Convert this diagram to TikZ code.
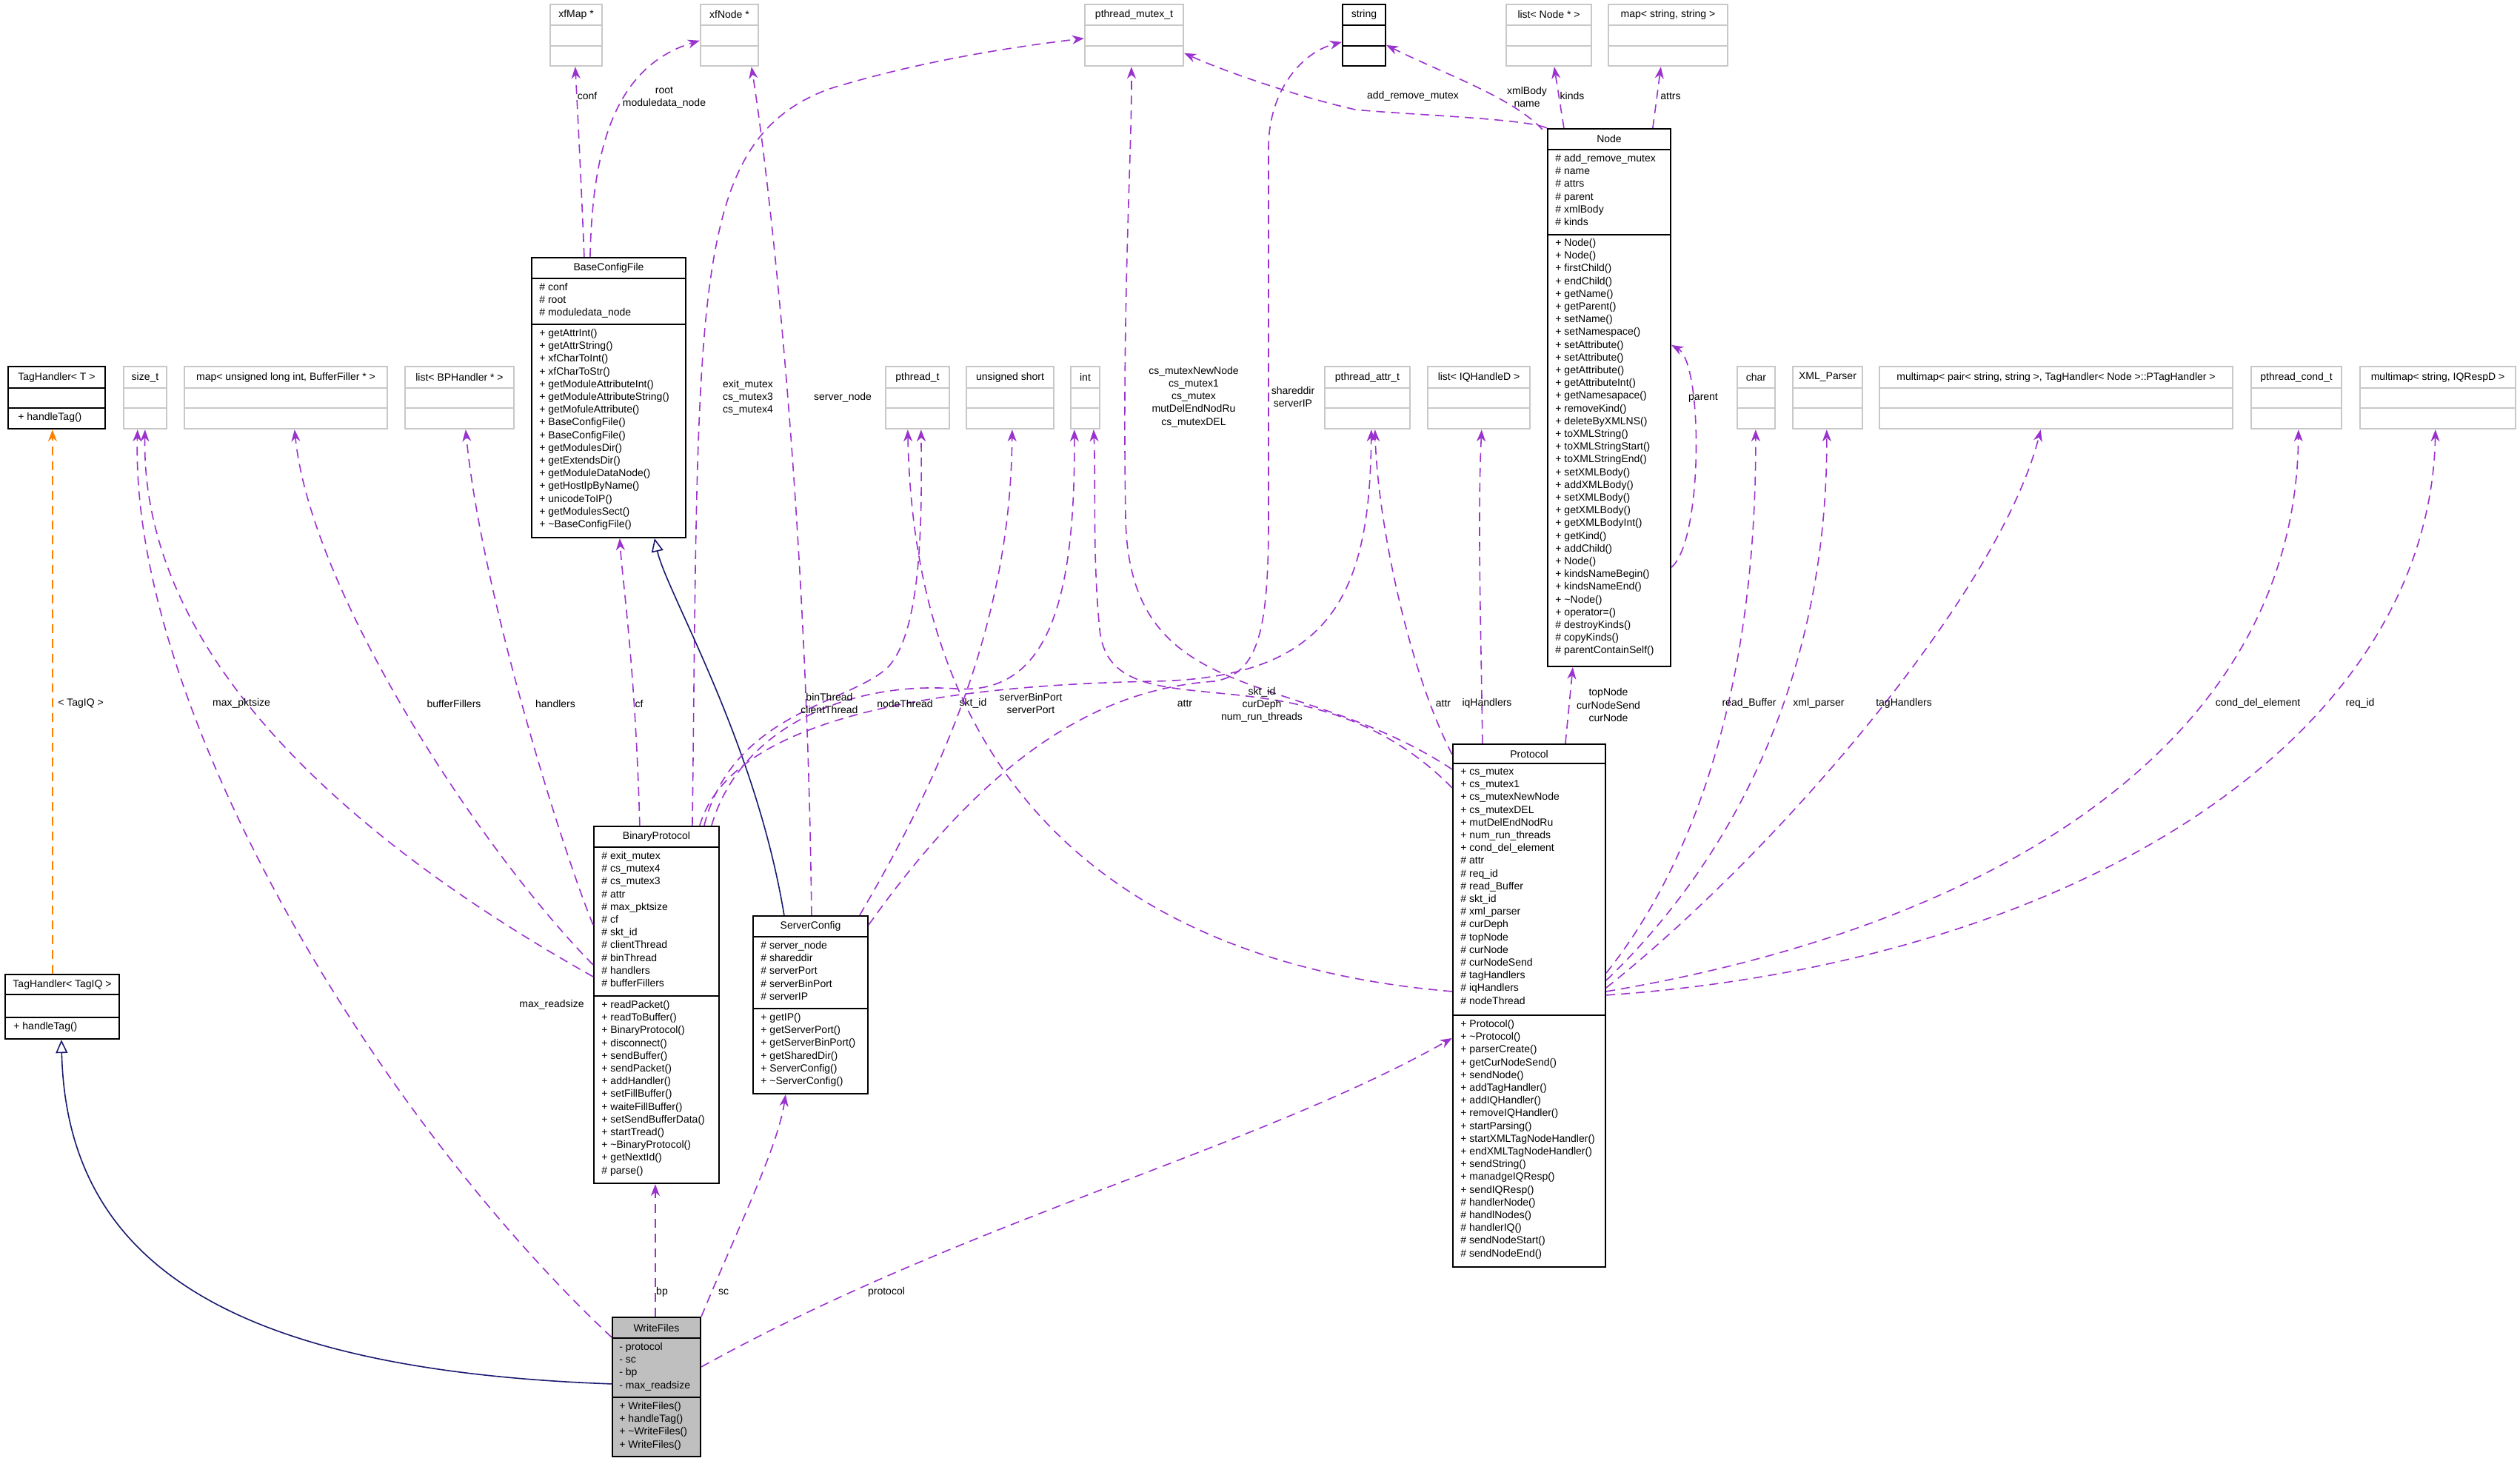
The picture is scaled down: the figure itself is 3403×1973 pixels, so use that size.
\documentclass[tikz,border=0pt]{standalone}
\usepackage{fontspec}
\setmainfont{Liberation Sans}
\usetikzlibrary{fit,calc,arrows.meta}
\definecolor{purp}{HTML}{9A32CD}
\definecolor{inh}{HTML}{191970}
\definecolor{gbox}{HTML}{BFBFBF}
\definecolor{lgray}{HTML}{C8C8C8}
\tikzset{
 gb/.style={draw=lgray,line width=1.2pt},
 bb/.style={draw=black,line width=1.1pt},
 wf/.style={draw=black,line width=1.1pt,fill=gbox},
 txt/.style={font=\fontsize{7}{8.6}\selectfont,inner sep=0pt,align=left},
 ttl/.style={font=\fontsize{7}{8.6}\selectfont,inner sep=0pt},
 lab/.style={font=\fontsize{7}{8.6}\selectfont,inner sep=0pt,align=center},
 dep/.style={draw=purp,dashed,dash pattern=on 6pt off 4pt,line width=0.8pt,-{Stealth[length=8pt,width=6pt,inset=2.5pt,sep=0pt]}},
 tmp/.style={draw=orange,dashed,dash pattern=on 6pt off 4pt,line width=0.8pt,-{Stealth[length=8pt,width=6pt]}},
 inhe/.style={draw=inh,line width=0.8pt,-{Triangle[open,length=9pt,width=8pt]}},
}
\newcommand\cls[9]{%
 \node[#2,fit={(#3,#4) (#5,#6)},inner sep=0pt] (#1) {};
 \draw[#2] (#3,#7) -- (#5,#7);
 \draw[#2] (#3,#8) -- (#5,#8);
 \node[ttl] (#1-t) at ({(#3+#5)/2},{(#4+#7)/2}) {#9};
}
\newcommand\mem[4]{\node[txt,anchor=north west] (#1) at (#2,#3) {#4};}
\begin{document}
\begin{tikzpicture}[x=0.5pt,y=-0.5pt]
\useasboundingbox (0,0) rectangle (3403,1973);
% top row
\cls{xfMap}{gb}{743}{6}{813}{89}{34}{62}{xfMap *}
\cls{xfNode}{gb}{946}{6}{1024}{89}{34}{62}{xfNode *}
\cls{pmt}{gb}{1465}{6}{1598}{89}{34}{62}{pthread\_mutex\_t}
\cls{str}{bb}{1813}{6}{1871}{89}{34}{62}{string}
\cls{lnode}{gb}{2034}{6}{2149}{89}{34}{62}{list< Node * >}
\cls{mss}{gb}{2172}{6}{2333}{89}{34}{62}{map< string, string >}
% middle row
\cls{tht}{bb}{11}{495}{142}{579}{524}{551}{TagHandler< T >}
\mem{tht-m}{24}{557}{+ handleTag()}
\cls{sizet}{gb}{167}{495}{225}{579}{524}{551}{size\_t}
\cls{mapbf}{gb}{249}{495}{523}{579}{524}{551}{map< unsigned long int, BufferFiller * >}
\cls{lbp}{gb}{547}{495}{694}{579}{524}{551}{list< BPHandler * >}
\cls{pt}{gb}{1196}{495}{1282}{579}{524}{551}{pthread\_t}
\cls{us}{gb}{1305}{495}{1423}{579}{524}{551}{unsigned short}
\cls{int}{gb}{1446}{495}{1485}{579}{524}{551}{int}
\cls{pat}{gb}{1789}{495}{1904}{579}{524}{551}{pthread\_attr\_t}
\cls{liq}{gb}{1928}{495}{2066}{579}{524}{551}{list< IQHandleD >}
\cls{char}{gb}{2346}{495}{2397}{579}{524}{551}{char}
\cls{xmlp}{gb}{2421}{495}{2515}{579}{524}{551}{XML\_Parser}
\cls{mmp}{gb}{2538}{495}{3015}{579}{524}{551}{multimap< pair< string, string >, TagHandler< Node >::PTagHandler >}
\cls{pct}{gb}{3040}{495}{3162}{579}{524}{551}{pthread\_cond\_t}
\cls{mmiq}{gb}{3187}{495}{3397}{579}{524}{551}{multimap< string, IQRespD >}
% BaseConfigFile
\cls{bcf}{bb}{718}{348}{926}{726}{376}{438}{BaseConfigFile}
\mem{bcf-a}{728}{382}{\# conf\\\# root\\\# moduledata\_node}
\mem{bcf-m}{728}{444}{+ getAttrInt()\\+ getAttrString()\\+ xfCharToInt()\\+ xfCharToStr()\\+ getModuleAttributeInt()\\+ getModuleAttributeString()\\+ getMofuleAttribute()\\+ BaseConfigFile()\\+ BaseConfigFile()\\+ getModulesDir()\\+ getExtendsDir()\\+ getModuleDataNode()\\+ getHostIpByName()\\+ unicodeToIP()\\+ getModulesSect()\\+ \textasciitilde BaseConfigFile()}
% Node
\cls{node}{bb}{2090}{174}{2256}{900}{202}{317}{Node}
\mem{node-a}{2100}{208}{\# add\_remove\_mutex\\\# name\\\# attrs\\\# parent\\\# xmlBody\\\# kinds}
\mem{node-m}{2100}{322}{+ Node()\\+ Node()\\+ firstChild()\\+ endChild()\\+ getName()\\+ getParent()\\+ setName()\\+ setNamespace()\\+ setAttribute()\\+ setAttribute()\\+ getAttribute()\\+ getAttributeInt()\\+ getNamesapace()\\+ removeKind()\\+ deleteByXMLNS()\\+ toXMLString()\\+ toXMLStringStart()\\+ toXMLStringEnd()\\+ setXMLBody()\\+ addXMLBody()\\+ setXMLBody()\\+ getXMLBody()\\+ getXMLBodyInt()\\+ getKind()\\+ addChild()\\+ Node()\\+ kindsNameBegin()\\+ kindsNameEnd()\\+ \textasciitilde Node()\\+ operator=()\\\# destroyKinds()\\\# copyKinds()\\\# parentContainSelf()}
% TagHandler<TagIQ>
\cls{thiq}{bb}{7}{1316}{161}{1403}{1343}{1374}{TagHandler< TagIQ >}
\mem{thiq-m}{18}{1380}{+ handleTag()}
% BinaryProtocol
\cls{bp}{bb}{802}{1116}{971}{1598}{1144}{1345}{BinaryProtocol}
\mem{bp-a}{812}{1150}{\# exit\_mutex\\\# cs\_mutex4\\\# cs\_mutex3\\\# attr\\\# max\_pktsize\\\# cf\\\# skt\_id\\\# clientThread\\\# binThread\\\# handlers\\\# bufferFillers}
\mem{bp-m}{812}{1351}{+ readPacket()\\+ readToBuffer()\\+ BinaryProtocol()\\+ disconnect()\\+ sendBuffer()\\+ sendPacket()\\+ addHandler()\\+ setFillBuffer()\\+ waiteFillBuffer()\\+ setSendBufferData()\\+ startTread()\\+ \textasciitilde BinaryProtocol()\\+ getNextId()\\\# parse()}
% ServerConfig
\cls{sc}{bb}{1017}{1237}{1172}{1477}{1265}{1362}{ServerConfig}
\mem{sc-a}{1027}{1271}{\# server\_node\\\# shareddir\\\# serverPort\\\# serverBinPort\\\# serverIP}
\mem{sc-m}{1027}{1368}{+ getIP()\\+ getServerPort()\\+ getServerBinPort()\\+ getSharedDir()\\+ ServerConfig()\\+ \textasciitilde ServerConfig()}
% Protocol
\cls{prot}{bb}{1962}{1005}{2168}{1711}{1031}{1371}{Protocol}
\mem{prot-a}{1972}{1037}{+ cs\_mutex\\+ cs\_mutex1\\+ cs\_mutexNewNode\\+ cs\_mutexDEL\\+ mutDelEndNodRu\\+ num\_run\_threads\\+ cond\_del\_element\\\# attr\\\# req\_id\\\# read\_Buffer\\\# skt\_id\\\# xml\_parser\\\# curDeph\\\# topNode\\\# curNode\\\# curNodeSend\\\# tagHandlers\\\# iqHandlers\\\# nodeThread}
\mem{prot-m}{1972}{1377}{+ Protocol()\\+ \textasciitilde Protocol()\\+ parserCreate()\\+ getCurNodeSend()\\+ sendNode()\\+ addTagHandler()\\+ addIQHandler()\\+ removeIQHandler()\\+ startParsing()\\+ startXMLTagNodeHandler()\\+ endXMLTagNodeHandler()\\+ sendString()\\+ manadgeIQResp()\\+ sendIQResp()\\\# handlerNode()\\\# handlNodes()\\\# handlerIQ()\\\# sendNodeStart()\\\# sendNodeEnd()}
% WriteFiles
\cls{wf}{wf}{827}{1779}{946}{1967}{1807}{1887}{WriteFiles}
\mem{wf-a}{836}{1813}{- protocol\\- sc\\- bp\\- max\_readsize}
\mem{wf-m}{836}{1893}{+ WriteFiles()\\+ handleTag()\\+ \textasciitilde WriteFiles()\\+ WriteFiles()}
% ---- edges
\draw[dep] ($(bcf.north west)+(72,0)$) .. controls (785,250) and (780,150) .. ($(xfMap.south west)+(35,0)$);
\draw[dep] ($(bcf.north west)+(80,0)$) .. controls (800,200) and (830,90) .. ($(xfNode.north west)+(0,50)$);
\draw[dep] ($(bp.north west)+(134,0)$) .. controls (944,400) and (930,190) .. (1120,120) .. controls (1250,80) and (1380,62) .. ($(pmt.north west)+(0,47)$);
\draw[dep] ($(sc.north west)+(80,0)$) .. controls (1090,700) and (1040,250) .. ($(xfNode.south west)+(70,0)$);
\draw[dep] ($(bp.north west)+(0,204)$) .. controls (500,1150) and (190,900) .. ($(sizet.south west)+(30,0)$);
\draw[dep] ($(wf.north west)+(0,28)$) .. controls (500,1500) and (175,950) .. ($(sizet.south west)+(20,0)$);
\draw[dep] ($(bp.north west)+(0,188)$) .. controls (650,1150) and (420,800) .. ($(mapbf.south west)+(150,0)$);
\draw[dep] ($(bp.north west)+(0,134)$) .. controls (760,1150) and (650,800) .. ($(lbp.south west)+(83,0)$);
\draw[dep] ($(bp.north west)+(63,0)$) .. controls (858,900) and (840,780) .. ($(bcf.south west)+(120,0)$);
\draw[inhe] ($(sc.north west)+(43,0)$) .. controls (1020,1000) and (900,800) .. ($(bcf.south west)+(167,0)$);
\draw[dep] ($(bp.north west)+(150,0)$) .. controls (990,960) and (1150,950) .. (1200,900) .. controls (1245,850) and (1245,700) .. ($(pt.south west)+(49,0)$);
\draw[dep] ($(prot.north west)+(0,335)$) .. controls (1500,1300) and (1235,1050) .. ($(pt.south west)+(31,0)$);
\draw[dep] ($(bp.north west)+(160,0)$) .. controls (1000,980) and (1150,920) .. (1290,930) .. controls (1420,940) and (1452,800) .. ($(int.south west)+(6,0)$);
\draw[dep] ($(prot.north west)+(0,60)$) .. controls (1760,860) and (1500,1000) .. (1485,850) .. controls (1475,750) and (1480,650) .. ($(int.south west)+(32,0)$);
\draw[dep] ($(sc.north west)+(145,0)$) .. controls (1300,1000) and (1365,800) .. ($(us.south west)+(63,0)$);
\draw[dep] ($(prot.north west)+(0,35)$) .. controls (1750,900) and (1525,960) .. (1520,700) .. controls (1515,400) and (1529,200) .. ($(pmt.south west)+(64,0)$);
\draw[dep] ($(sc.north east)+(0,13)$) .. controls (1350,1000) and (1500,930) .. (1640,920) .. controls (1700,910) and (1713,850) .. (1713,700) -- (1713,200) .. controls (1713,120) and (1760,70) .. ($(str.north west)+(0,52)$);
\draw[dep] ($(bp.north west)+(144,0)$) .. controls (990,960) and (1300,925) .. (1560,920) .. controls (1800,915) and (1850,800) .. ($(pat.south west)+(64,0)$);
\draw[dep] ($(prot.north west)+(0,15)$) .. controls (1900,900) and (1860,700) .. ($(pat.south west)+(69,0)$);
\draw[dep] ($(prot.north west)+(41,0)$) .. controls (2000,850) and (1995,700) .. ($(liq.south west)+(74,0)$);
\draw[dep] ($(prot.north west)+(153,0)$) -- ($(node.south west)+(35,0)$);
\draw[dep] ($(node.south east)+(0,-135)$) .. controls (2300,730) and (2300,490) .. ($(node.north east)+(0,293)$);
\draw[dep] (node.north west) .. controls (2060,160) and (1900,155) .. (1830,148) .. controls (1750,130) and (1650,95) .. ($(pmt.north east)+(0,67)$);
\draw[dep] ($(node.north west)+(-6,2)$) .. controls (2040,130) and (1950,100) .. ($(str.north east)+(0,56)$);
\draw[dep] ($(node.north west)+(23,0)$) -- ($(lnode.south west)+(66,0)$);
\draw[dep] ($(node.north west)+(143,0)$) -- ($(mss.south west)+(72,0)$);
\draw[dep] ($(prot.north east)+(0,310)$) .. controls (2300,1150) and (2372,900) .. ($(char.south west)+(26,0)$);
\draw[dep] ($(prot.north east)+(0,320)$) .. controls (2350,1150) and (2468,900) .. ($(xmlp.south west)+(47,0)$);
\draw[dep] ($(prot.north east)+(0,330)$) .. controls (2400,1150) and (2700,800) .. ($(mmp.south west)+(219,0)$);
\draw[dep] ($(prot.north east)+(0,335)$) .. controls (2700,1250) and (3100,1000) .. ($(pct.south west)+(65,0)$);
\draw[dep] ($(prot.north east)+(0,340)$) .. controls (2800,1300) and (3280,1000) .. ($(mmiq.south west)+(103,0)$);
\draw[tmp] ($(thiq.north west)+(65,0)$) -- ($(tht.south west)+(61,0)$);
\draw[inhe] ($(wf.north west)+(0,91)$) .. controls (300,1850) and (90,1700) .. ($(thiq.south west)+(77,0)$);
\draw[dep] ($(wf.north west)+(59,0)$) -- ($(bp.south west)+(84,0)$);
\draw[dep] (wf.north east) .. controls (1000,1650) and (1050,1550) .. ($(sc.south west)+(45,0)$);
\draw[dep] ($(wf.north east)+(0,68)$) .. controls (1300,1650) and (1700,1550) .. ($(prot.north west)+(0,398)$);
% labels
\node[lab] (l1) at (793,130) {conf};
\node[lab] (l2) at (897,132) {root\\moduledata\_node};
\node[lab] (l3) at (1010,537) {exit\_mutex\\cs\_mutex3\\cs\_mutex4};
\node[lab] (l4) at (1138,537) {server\_node};
\node[lab] (l5) at (326,950) {max\_pktsize};
\node[lab] (l6) at (745,1357) {max\_readsize};
\node[lab] (l7) at (613,950) {bufferFillers};
\node[lab] (l8) at (750,950) {handlers};
\node[lab] (l9) at (863,950) {cf};
\node[lab] (l10) at (1120,950) {binThread\\clientThread};
\node[lab] (l11) at (1222,950) {nodeThread};
\node[lab] (l12) at (1314,950) {skt\_id};
\node[lab] (l13) at (1392,950) {serverBinPort\\serverPort};
\node[lab] (l14) at (1612,536) {cs\_mutexNewNode\\cs\_mutex1\\cs\_mutex\\mutDelEndNodRu\\cs\_mutexDEL};
\node[lab] (l15) at (1746,536) {shareddir\\serverIP};
\node[lab] (l16) at (1600,950) {attr};
\node[lab] (l17) at (1704,952) {skt\_id\\curDeph\\num\_run\_threads};
\node[lab] (l18) at (1949,950) {attr};
\node[lab] (l19) at (2008,950) {iqHandlers};
\node[lab] (l20) at (2172,952) {topNode\\curNodeSend\\curNode};
\node[lab] (l21) at (2300,537) {parent};
\node[lab] (l22) at (1908,130) {add\_remove\_mutex};
\node[lab] (l23) at (2062,131) {xmlBody\\name};
\node[lab] (l24) at (2123,130) {kinds};
\node[lab] (l25) at (2256,130) {attrs};
\node[lab] (l26) at (2362,950) {read\_Buffer};
\node[lab] (l27) at (2456,950) {xml\_parser};
\node[lab] (l28) at (2571,950) {tagHandlers};
\node[lab] (l29) at (3049,950) {cond\_del\_element};
\node[lab] (l30) at (3187,950) {req\_id};
\node[lab] (l31) at (109,950) {< TagIQ >};
\node[lab] (l32) at (894,1745) {bp};
\node[lab] (l33) at (977,1745) {sc};
\node[lab] (l34) at (1197,1745) {protocol};
\end{tikzpicture}
\end{document}
